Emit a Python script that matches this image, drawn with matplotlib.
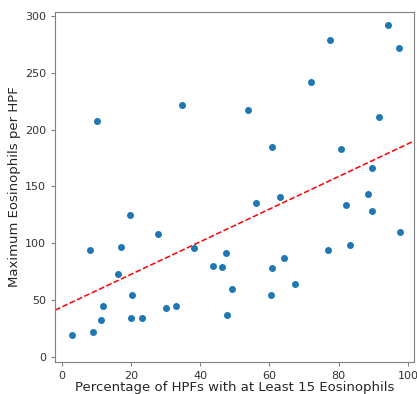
import matplotlib.pyplot as plt
import numpy as np

# Percentage of HPFs with >= 15 eosinophils vs. max eosinophils per HPF
pct_hpf = [
    10.3, 34.8,
    94.3, 97.3, 77.6, 72.1, 53.8, 60.9, 91.7, 80.7, 89.6,
    19.8, 27.7, 8.2, 17.2, 38.2, 16.4, 43.6, 46.2, 47.4, 49.1,
    20.3, 11.9, 30.1, 33.1, 47.9, 20.0, 23.1, 11.5, 9.2, 2.9,
    56.2, 63.2, 88.6, 82.2, 89.6, 97.7, 77.0, 83.2, 64.1, 60.9, 67.4, 60.6,
]
max_eos = [
    208, 222,
    292, 272, 279, 242, 217, 185, 211, 183, 166,
    125, 108, 94, 97, 96, 73, 80, 79, 91, 60,
    54, 45, 43, 45, 37, 34, 34, 32, 22, 19,
    135, 141, 143, 134, 128, 110, 94, 98, 87, 78, 64, 54,
]

XLABEL = "Percentage of HPFs with at Least 15 Eosinophils"
YLABEL = "Maximum Eosinophils per HPF"


def main() -> None:
    x = np.array(pct_hpf)
    y = np.array(max_eos)

    fig = plt.figure(figsize=(4.17, 3.94), dpi=100)
    ax = fig.add_axes([0.132, 0.082, 0.861, 0.888])

    ax.scatter(x, y, s=16, color="#1f77b4", zorder=3)

    # least-squares trend line across the full x range
    coeffs = np.polyfit(x, y, 1)
    fit_line = np.poly1d(coeffs)
    xlim = (-1.9, 101.8)
    x_line = np.linspace(xlim[0], xlim[1], 200)
    ax.plot(x_line, fit_line(x_line), color="red", linestyle="--", linewidth=1.1)

    ax.set_xlim(*xlim)
    ax.set_ylim(-4.5, 304)
    ax.set_xticks([0, 20, 40, 60, 80, 100])
    ax.set_yticks([0, 50, 100, 150, 200, 250, 300])

    ax.set_xlabel(XLABEL, fontsize=9.5, labelpad=0.5, color="#262626")
    ax.set_ylabel(YLABEL, fontsize=9.5, labelpad=3, color="#262626")
    ax.tick_params(labelsize=8, color="#808080", labelcolor="#333333",
                   length=3, width=0.8)
    for spine in ax.spines.values():
        spine.set_color("#808080")
        spine.set_linewidth(0.8)

    fig.savefig("out.png", dpi=100)
    plt.close(fig)


if __name__ == "__main__":
    main()
